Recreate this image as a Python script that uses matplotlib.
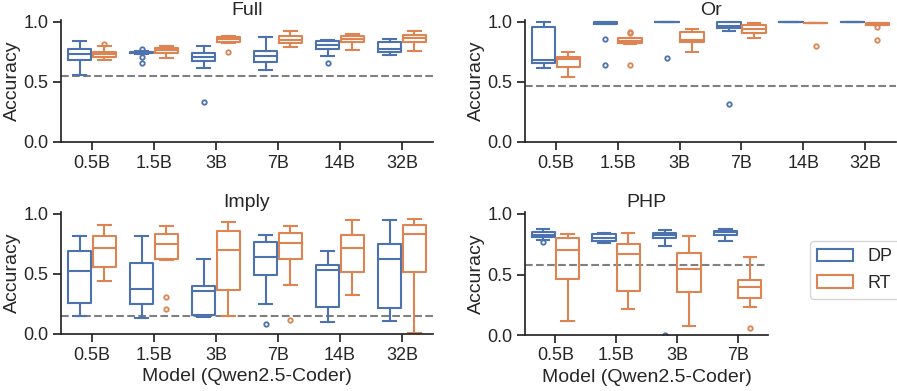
import matplotlib
matplotlib.use("Agg")
import matplotlib.pyplot as plt
from matplotlib.patches import Patch

plt.rcParams['font.family'] = ['Liberation Sans', 'DejaVu Sans']
plt.rcParams['text.color'] = '#262626'
plt.rcParams['axes.labelcolor'] = '#262626'
plt.rcParams['xtick.color'] = '#262626'
plt.rcParams['ytick.color'] = '#262626'

# model sizes
models = ['0.5B', '1.5B', '3B', '7B', '14B', '32B']
php_models = ['0.5B', '1.5B', '3B', '7B']
hues = ['DP', 'RT']

# each row: (whisker low, q1, median, q3, whisker high)
full_dp = [(0.560, 0.686, 0.731, 0.778, 0.842), (0.736, 0.740, 0.747, 0.753, 0.756),
           (0.614, 0.678, 0.708, 0.740, 0.803), (0.603, 0.669, 0.719, 0.761, 0.872),
           (0.719, 0.778, 0.805, 0.842, 0.853), (0.728, 0.753, 0.778, 0.836, 0.858)]
full_dp_fliers = [[], [0.775, 0.711, 0.661], [0.331], [], [0.661], []]
full_rt = [(0.681, 0.708, 0.731, 0.753, 0.803), (0.703, 0.739, 0.769, 0.786, 0.803),
           (0.825, 0.831, 0.856, 0.878, 0.886), (0.792, 0.825, 0.853, 0.883, 0.925),
           (0.769, 0.833, 0.858, 0.881, 0.900), (0.761, 0.833, 0.867, 0.892, 0.922)]
full_rt_fliers = [[0.814], [], [0.753], [], [], []]
full_base = 0.55

or_dp = [(0.617, 0.660, 0.683, 0.958, 1.0), (0.980, 0.985, 0.995, 1.0, 1.0),
         (1.0, 1.0, 1.0, 1.0, 1.0), (0.928, 0.953, 0.970, 1.0, 1.0),
         (1.0, 1.0, 1.0, 1.0, 1.0), (1.0, 1.0, 1.0, 1.0, 1.0)]
or_dp_fliers = [[], [0.858, 0.639], [0.70], [0.319], [], []]
or_rt = [(0.539, 0.625, 0.690, 0.708, 0.753), (0.819, 0.825, 0.845, 0.864, 0.866),
         (0.750, 0.831, 0.850, 0.919, 0.939), (0.867, 0.911, 0.942, 0.972, 0.992),
         (0.995, 0.995, 0.995, 0.995, 0.995), (0.975, 0.978, 0.990, 0.992, 0.995)]
or_rt_fliers = [[], [0.917, 0.910, 0.639], [], [], [0.80], [0.958, 0.85]]
or_base = 0.469

imply_dp = [(0.147, 0.261, 0.522, 0.692, 0.817), (0.136, 0.247, 0.378, 0.589, 0.817),
            (0.139, 0.158, 0.361, 0.397, 0.628), (0.247, 0.492, 0.639, 0.764, 0.822),
            (0.097, 0.228, 0.533, 0.578, 0.689), (0.108, 0.219, 0.625, 0.747, 0.947)]
imply_dp_fliers = [[], [], [], [0.086], [], []]
imply_rt = [(0.442, 0.558, 0.717, 0.817, 0.911), (0.620, 0.625, 0.747, 0.836, 0.900),
            (0.147, 0.367, 0.700, 0.856, 0.931), (0.408, 0.628, 0.761, 0.839, 0.897),
            (0.328, 0.519, 0.714, 0.828, 0.947), (0.011, 0.519, 0.833, 0.906, 0.958)]
imply_rt_fliers = [[], [0.308, 0.211], [], [0.117], [], []]
imply_base = 0.147

php_dp = [(0.784, 0.809, 0.830, 0.850, 0.877), (0.757, 0.776, 0.803, 0.831, 0.847),
          (0.735, 0.798, 0.830, 0.847, 0.866), (0.776, 0.825, 0.850, 0.863, 0.877)]
php_dp_fliers = [[0.765], [], [0.0], []]
php_rt = [(0.112, 0.462, 0.700, 0.798, 0.836), (0.219, 0.366, 0.672, 0.754, 0.847),
          (0.077, 0.352, 0.546, 0.675, 0.817), (0.235, 0.306, 0.396, 0.456, 0.645)]
php_rt_fliers = [[], [], [], [0.055]]
php_base = 0.575

colors = ['#4C72B0', '#DD8452']
W, H = 897, 391


def make_axes(fig, x0, x1, y0, y1, ymax=1.02):
    # x0/x1 pixel extent, y0 pixel of value 0, y1 pixel of value 1
    top = y0 - ymax * (y0 - y1)
    return fig.add_axes([x0 / W, 1 - y0 / H, (x1 - x0) / W, (y0 - top) / H])


def draw_panel(ax, title, labels, dp, dp_fl, rt, rt_fl, base, xlabel):
    for k, (rows, fl) in enumerate([(dp, dp_fl), (rt, rt_fl)]):
        c = colors[k]
        stats = []
        for r, f in zip(rows, fl):
            stats.append(dict(whislo=r[0], q1=r[1], med=r[2], q3=r[3],
                              whishi=r[4], fliers=f))
        pos = [i + (-0.2 if k == 0 else 0.2) for i in range(len(rows))]
        lp = dict(color=c, linewidth=1.5)
        ax.bxp(stats, positions=pos, widths=0.38, capwidths=0.2,
               boxprops=lp, whiskerprops=lp, capprops=lp, medianprops=lp,
               flierprops=dict(marker='o', markersize=3.2, markerfacecolor='none',
                               markeredgecolor=c, markeredgewidth=1.3),
               manage_ticks=False)
    ax.axhline(base, color='#808080', linestyle='--', linewidth=1.5, zorder=0)
    ax.set_xlim(-0.5, len(labels) - 0.5)
    ax.set_ylim(0, 1.02)
    ax.set_xticks(range(len(labels)))
    ax.set_xticklabels(labels)
    ax.set_yticks([0, 0.5, 1.0])
    ax.set_yticklabels(['0.0', '0.5', '1.0'])
    ax.tick_params(labelsize=13, length=6, width=1.25, pad=3)
    for s in ['top', 'right']:
        ax.spines[s].set_visible(False)
    for s in ['left', 'bottom']:
        ax.spines[s].set_linewidth(1.25)
        ax.spines[s].set_color('#262626')
    ax.set_title(title, fontsize=14, pad=3)
    ax.set_ylabel('Accuracy', fontsize=14, labelpad=2)
    if xlabel:
        ax.set_xlabel('Model (Qwen2.5-Coder)', fontsize=14, labelpad=3)


fig = plt.figure(figsize=(W / 100, H / 100), dpi=100)

ax1 = make_axes(fig, 61, 433, 142, 22)
draw_panel(ax1, 'Full', models, full_dp, full_dp_fliers, full_rt, full_rt_fliers, full_base, False)

ax2 = make_axes(fig, 525, 896, 142, 22)
draw_panel(ax2, 'Or', models, or_dp, or_dp_fliers, or_rt, or_rt_fliers, or_base, False)

ax3 = make_axes(fig, 61, 433, 334, 214)
draw_panel(ax3, 'Imply', models, imply_dp, imply_dp_fliers, imply_rt, imply_rt_fliers, imply_base, True)

ax4 = make_axes(fig, 525, 768, 335, 214)
draw_panel(ax4, 'PHP', php_models, php_dp, php_dp_fliers, php_rt, php_rt_fliers, php_base, True)

handles = [Patch(facecolor='white', edgecolor=c, linewidth=1.5) for c in colors]
fig.legend(handles, hues, loc='center left', bbox_to_anchor=(810 / W, 1 - 270 / H),
           fontsize=13, frameon=True, edgecolor='#cccccc', borderaxespad=0)

fig.savefig('out.png', dpi=100)
